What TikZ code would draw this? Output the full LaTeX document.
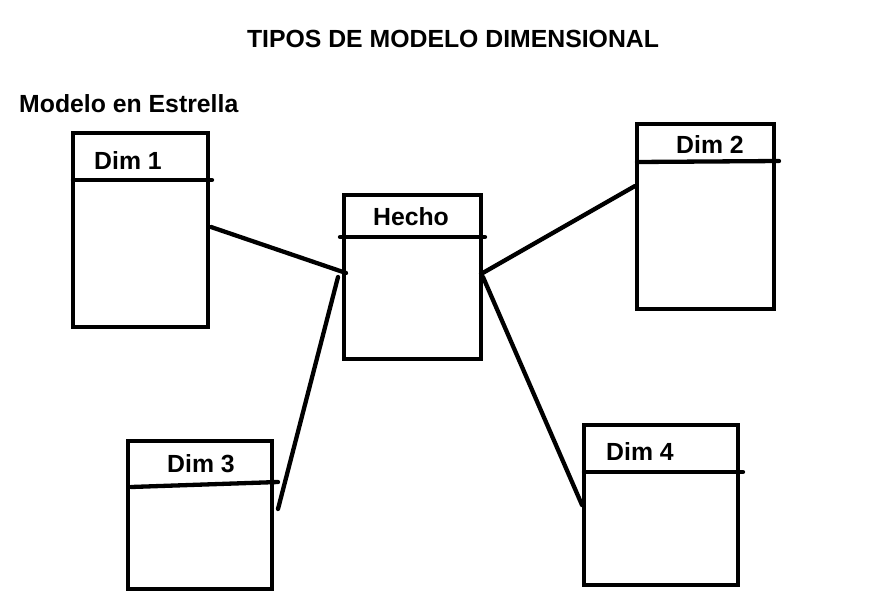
\documentclass[tikz,border=0pt]{standalone}
\usepackage{fontspec}
\setmainfont{Liberation Sans}
\begin{document}
\begin{tikzpicture}[x=1pt,y=-1pt]
\tikzset{
  box/.style={draw=black, line width=4.3pt, rectangle, inner sep=0pt},
  conn/.style={draw=black, line width=4.3pt, line cap=round},
  divider/.style={draw=black, line width=4.3pt, line cap=round},
  lbl/.style={font=\bfseries\fontsize{24.8}{29}\selectfont, inner sep=0pt, anchor=base},
}
\useasboundingbox[fill=white] (0,0) rectangle (880,605);

% boxes
\node[box, minimum width=135pt, minimum height=194pt] (d1) at (140.5,230) {};
\node[box, minimum width=137pt, minimum height=164pt] (h) at (412.5,277) {};
\node[box, minimum width=137pt, minimum height=185pt] (d2) at (705.5,216.5) {};
\node[box, minimum width=144pt, minimum height=148pt] (d3) at (200,515) {};
\node[box, minimum width=154pt, minimum height=160pt] (d4) at (661,505) {};

% divider end points
\coordinate (d1a) at (73,180);  \coordinate (d1b) at (212,180);
\coordinate (ha)  at (340,237); \coordinate (hb)  at (485,237);
\coordinate (d2a) at (637,162); \coordinate (d2b) at (779,161);
\coordinate (d3a) at (131,487); \coordinate (d3b) at (278,482);
\coordinate (d4a) at (584,472); \coordinate (d4b) at (743,472);
\draw[divider] (d1a) -- (d1b);
\draw[divider] (ha) -- (hb);
\draw[divider] (d2a) -- (d2b);
\draw[divider] (d3a) -- (d3b);
\draw[divider] (d4a) -- (d4b);

% labels
\node[lbl] (t1) at (128,169) {Dim 1};
\node[lbl] (th) at (411,225) {Hecho};
\node[lbl] (t2) at (710,153) {Dim 2};
\node[lbl] (t3) at (201,472) {Dim 3};
\node[lbl] (t4) at (640,460) {Dim 4};
\node[lbl] (title) at (453,47) {TIPOS DE MODELO DIMENSIONAL};
\node[lbl, anchor=base west] (sub) at (19,112) {Modelo en Estrella};

% connector end points
\coordinate (c1a) at (211,227); \coordinate (c1b) at (346,273);
\coordinate (c2a) at (481,274); \coordinate (c2b) at (635,186);
\coordinate (c3a) at (338,277); \coordinate (c3b) at (278,509);
\coordinate (c4a) at (483,277); \coordinate (c4b) at (582,505);
\draw[conn] (c1a) -- (c1b);
\draw[conn] (c2a) -- (c2b);
\draw[conn] (c3a) -- (c3b);
\draw[conn] (c4a) -- (c4b);
\end{tikzpicture}
\end{document}
